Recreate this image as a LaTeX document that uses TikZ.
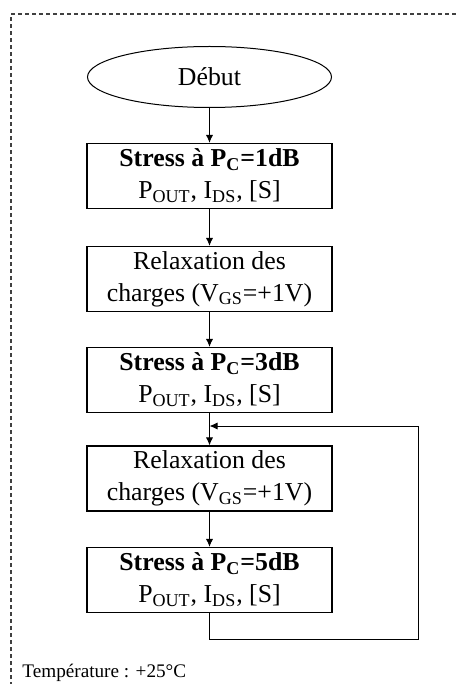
\documentclass[tikz,border=0pt]{standalone}
\usepackage{fontspec}
\setmainfont{Liberation Serif}
\usetikzlibrary{shapes.geometric, arrows.meta}

\begin{document}
\begin{tikzpicture}[x=0.5pt, y={(0pt,-0.5pt)},
  every node/.style={font=\fontsize{12.9}{16}\selectfont},
  etape/.style={draw, line width=0.6pt, rectangle, minimum width=122.5pt, minimum height=32.5pt, inner sep=0pt, align=center},
  debut/.style={draw, line width=0.5pt, ellipse, minimum width=122pt, minimum height=30.5pt, inner sep=0pt},
  flow/.style={line width=0.5pt, -{Latex[length=4pt, width=3.6pt]}},
  cadre/.style={line width=0.6pt, black!75, dash pattern=on 2pt off 1.5pt}]
  \clip (0,0) rectangle (457,684);
  \draw[cadre] (11,700) -- (11,14) -- (470,14);
  \node[debut] (start) at (209.5,77) {Début};
  \node[etape] (s1) at (209.5,176) {\textbf{Stress à P\textsubscript{C}=1dB}\\P\textsubscript{OUT}, I\textsubscript{DS}, [S]};
  \node[etape] (r1) at (209.5,279) {Relaxation des\\charges (V\textsubscript{GS}=+1V)};
  \node[etape] (s3) at (209.5,380) {\textbf{Stress à P\textsubscript{C}=3dB}\\P\textsubscript{OUT}, I\textsubscript{DS}, [S]};
  \node[etape] (r2) at (209.5,478.5) {Relaxation des\\charges (V\textsubscript{GS}=+1V)};
  \node[etape] (s5) at (209.5,580) {\textbf{Stress à P\textsubscript{C}=5dB}\\P\textsubscript{OUT}, I\textsubscript{DS}, [S]};
  \node[anchor=base west, inner sep=0pt, font=\fontsize{9.6}{12}\selectfont] (temp) at (22,677) {Température  : +25°C};
  \draw[flow] (start) -- (s1);
  \draw[flow] (s1) -- (r1);
  \draw[flow] (r1) -- (s3);
  \draw[flow] (s3) -- (r2);
  \draw[flow] (r2) -- (s5);
  % boucle de retour
  \coordinate (retour) at (418,639);
  \coordinate (jonction) at (209.5,426);
  \draw[flow] (s5.south) |- (retour) |- (jonction);
\end{tikzpicture}
\end{document}
